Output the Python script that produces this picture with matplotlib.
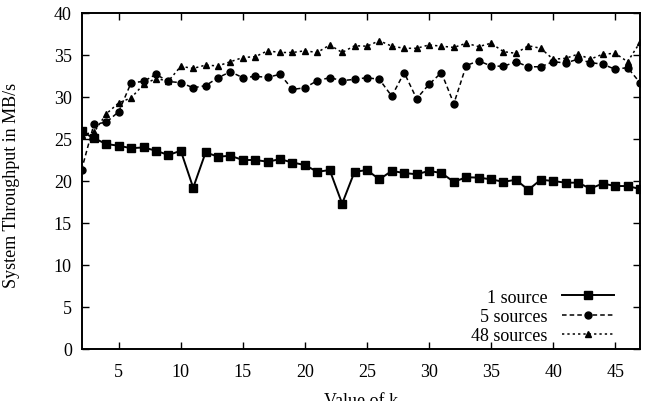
import matplotlib
matplotlib.use("Agg")
import matplotlib.pyplot as plt

k = list(range(2, 48))
one_source = [25.9, 25.1, 24.4, 24.2, 23.9, 24.0, 23.6, 23.1, 23.6, 19.2,
              23.4, 22.9, 23.0, 22.5, 22.5, 22.3, 22.6, 22.2, 21.9, 21.1,
              21.3, 17.3, 21.1, 21.3, 20.2, 21.2, 20.95, 20.8, 21.2, 20.95,
              19.9, 20.45, 20.4, 20.2, 19.9, 20.15, 18.95, 20.15, 20.0, 19.8,
              19.8, 19.1, 19.7, 19.4, 19.4, 19.05]
five_sources = [21.3, 26.75, 27.0, 28.25, 31.7, 31.85, 32.7, 31.85, 31.7, 31.1,
                31.35, 32.3, 33.0, 32.3, 32.45, 32.35, 32.7, 30.9, 31.1, 31.95,
                32.3, 31.95, 32.1, 32.3, 32.1, 30.1, 32.9, 29.8, 31.5, 32.9,
                29.2, 33.75, 34.3, 33.7, 33.65, 34.2, 33.6, 33.6, 34.2, 34.05,
                34.5, 34.1, 33.9, 33.3, 33.5, 31.7]
fortyeight_sources = [25.5, 25.8, 28.0, 29.3, 29.9, 31.5, 32.2, 31.9, 33.65, 33.4,
                      33.8, 33.7, 34.2, 34.7, 34.8, 35.5, 35.3, 35.3, 35.5, 35.3,
                      36.2, 35.3, 36.1, 36.05, 36.7, 36.05, 35.8, 35.8, 36.2, 36.05,
                      35.9, 36.4, 36.0, 36.4, 35.4, 35.2, 36.1, 35.8, 34.5, 34.6,
                      35.1, 34.5, 35.1, 35.2, 34.2, 36.5]
xticks = [5, 10, 15, 20, 25, 30, 35, 40, 45]
yticks = [0, 5, 10, 15, 20, 25, 30, 35, 40]

plt.rcParams['font.family'] = ['Liberation Serif', 'DejaVu Serif']
FS = 13

fig = plt.figure(figsize=(6.66, 4.02), dpi=100)
L, R, T, B = 81.5, 640, 14, 350
W, H = 666, 402
ax = fig.add_axes([L / W, 1 - B / H, (R - L) / W, (B - T) / H])

ax.plot(k, one_source, color='black', linestyle='-', linewidth=1.4,
        marker='s', markersize=5.5, label='1 source')
ax.plot(k, five_sources, color='black', linestyle=(0, (3, 2)), linewidth=1.1,
        marker='o', markersize=5, label='5 sources')
ax.plot(k, fortyeight_sources, color='black', linestyle=(0, (1.5, 2)), linewidth=1.1,
        marker='^', markersize=4, label='48 sources')

ax.set_xlim(2, 47)
ax.set_ylim(0, 40)
ax.set_xticks(xticks)
ax.set_yticks(yticks)
ax.tick_params(direction='in', top=True, right=True, length=5, width=1,
               labelsize=FS, colors='black')
ax.tick_params(axis='x', pad=10)
ax.tick_params(axis='y', pad=7)
for s in ax.spines.values():
    s.set_linewidth(1.4)

ax.set_xlabel('Value of k', fontsize=FS)
ax.set_ylabel('System Throughput in MB/s', fontsize=FS)
ax.xaxis.set_label_coords(0.5, (B - 393) / (B - T))
ax.yaxis.set_label_coords((12 - L) / (R - L), 0.49)
ax.yaxis.label.set_va('center')

leg = ax.legend(loc='lower right', frameon=False, markerfirst=False,
                bbox_to_anchor=((614 - L) / (R - L), (B - 345) / (B - T)),
                borderaxespad=0, borderpad=0,
                handlelength=2.9, handletextpad=0.8, labelspacing=0.12,
                fontsize=FS)
for t in leg.get_texts():
    t.set_ha('right')

fig.savefig('out.png', dpi=100)
